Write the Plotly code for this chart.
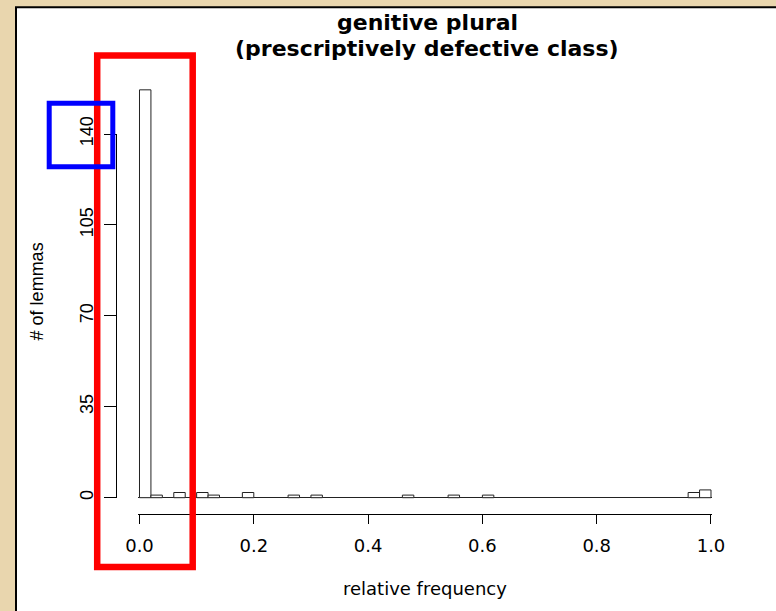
import plotly.graph_objects as go

# ---- data: histogram of relative frequency (bins of width 0.02, empty bins omitted) ----
bin_width = 0.02
bin_start = [0.00, 0.02, 0.06, 0.10, 0.12, 0.18, 0.26, 0.30, 0.46, 0.54, 0.60, 0.96, 0.98]
lemma_counts = [157, 1, 2, 2, 1, 2, 1, 1, 1, 1, 1, 2, 3]

x_tickvals = [0.0, 0.2, 0.4, 0.6, 0.8, 1.0]
x_ticktext = ["0.0", "0.2", "0.4", "0.6", "0.8", "1.0"]
y_tickvals = [0, 35, 70, 105, 140]

title_lines = ["genitive plural", "(prescriptively defective class)"]
x_title = "relative frequency"
y_title = "# of lemmas"

# ---- page geometry (pixels) ----
W, H = 776, 611
X0_PX, X1_PX = 139.5, 711.0      # where x = 0 and x = 1 fall
Y0_PX, Y140_PX = 497.7, 134.0    # where count = 0 and count = 140 fall
XAXIS_PX = 514.0                 # detached x-axis line
YAXIS_PX = 116.0                 # detached y-axis line
TOP_PX = 60.0

sx = (X1_PX - X0_PX)             # px per unit x
ky = (Y0_PX - Y140_PX) / 140.0   # px per count
pad = 0.002


def px(p):
    return p / W


def py(p):
    return 1 - p / H


xdom = [px(X0_PX - pad * sx), px(X1_PX + pad * sx)]
ydom = [py(XAXIS_PX), py(TOP_PX)]
yrng = [-(XAXIS_PX - Y0_PX) / ky, (Y0_PX - TOP_PX) / ky]

PAPER = "#E9D6AE"
HFONT = "DejaVu Sans"
VFONT = "Liberation Sans"

fig = go.Figure()
fig.add_trace(go.Bar(
    x=bin_start, y=lemma_counts, width=bin_width, offset=0,
    marker=dict(color="white", line=dict(color="#222222", width=1)),
    xaxis="x", yaxis="y", hoverinfo="skip", showlegend=False,
))
# carrier for the left count axis
fig.add_trace(go.Scatter(x=[], y=[], xaxis="x", yaxis="y2",
                         showlegend=False, hoverinfo="skip"))

fig.update_layout(
    template="none",
    width=W, height=H, autosize=False,
    margin=dict(l=0, r=0, t=0, b=0, pad=0, autoexpand=False),
    paper_bgcolor=PAPER,
    plot_bgcolor="rgba(0,0,0,0)",
    showlegend=False,
    xaxis=dict(
        domain=xdom, range=[-pad, 1 + pad], anchor="y", automargin=False,
        showline=True, linecolor="black", linewidth=1,
        ticks="outside", ticklen=9, tickwidth=1, tickcolor="black",
        tickvals=x_tickvals, ticktext=x_ticktext, ticklabelstandoff=6,
        tickfont=dict(family=HFONT, size=18, color="black"),
        showgrid=False, zeroline=False, fixedrange=True,
    ),
    yaxis=dict(
        domain=ydom, range=yrng, anchor="x", automargin=False,
        showline=False, showticklabels=False, ticks="",
        showgrid=False, zeroline=True, zerolinecolor="#222222",
        zerolinewidth=1, fixedrange=True,
    ),
    yaxis2=dict(
        domain=[py(Y0_PX), py(Y140_PX)], range=[0, 140],
        anchor="free", position=px(YAXIS_PX), side="left", automargin=False,
        showline=True, linecolor="black", linewidth=1,
        ticks="outside", ticklen=12, tickwidth=1, tickcolor="black",
        tickvals=y_tickvals, tickangle=-90, ticklabelstandoff=4,
        tickfont=dict(family=VFONT, size=18, color="black"),
        showgrid=False, zeroline=False, fixedrange=True,
    ),
)

# white panel with dark border
fig.add_shape(type="rect", xref="paper", yref="paper",
              x0=px(16), x1=1.02, y0=-0.02, y1=py(7.3),
              line=dict(color="black", width=2), fillcolor="white",
              layer="below")

# highlight boxes
fig.add_shape(type="rect", xref="paper", yref="paper",
              x0=px(97.2), x1=px(192.7), y0=py(567), y1=py(55.5),
              line=dict(color="#FF0000", width=6.5), layer="above")
fig.add_shape(type="rect", xref="paper", yref="paper",
              x0=px(49.2), x1=px(112.8), y0=py(166.8), y1=py(103.3),
              line=dict(color="#0000FF", width=5), layer="above")

# two-line bold title
for line, yc in zip(title_lines, [22.7, 48.3]):
    fig.add_annotation(
        text="<b>" + line + "</b>",
        xref="paper", yref="paper", x=px(427), y=py(yc),
        xanchor="center", yanchor="middle", showarrow=False,
        font=dict(family=HFONT, size=22, color="black"),
    )
fig.add_annotation(
    text=x_title, xref="paper", yref="paper", x=px(425), y=py(588),
    xanchor="center", yanchor="middle", showarrow=False,
    font=dict(family=HFONT, size=18, color="black"),
)
fig.add_annotation(
    text=y_title, xref="paper", yref="paper", x=px(36.7), y=py(291.7),
    xanchor="center", yanchor="middle", textangle=-90, showarrow=False,
    font=dict(family=VFONT, size=18, color="black"),
)

fig.write_html("out.html")
